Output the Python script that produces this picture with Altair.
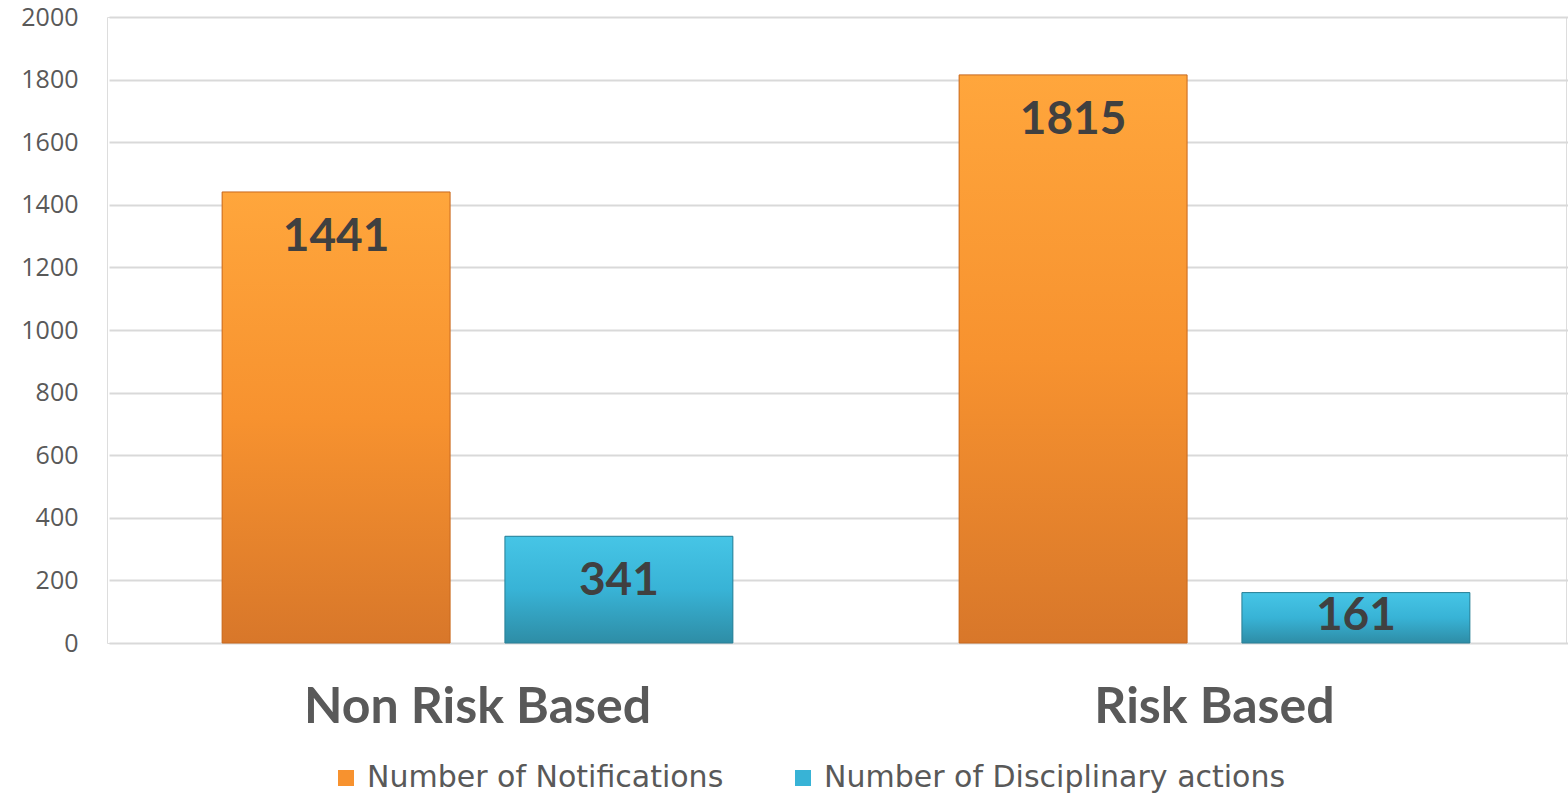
import altair as alt
import pandas as pd

categories = ["Non Risk Based", "Risk Based"]
series = ["Number of Notifications", "Number of Disciplinary actions"]
notifications = [1441, 1815]
disciplinary = [341, 161]
y_ticks = [0, 200, 400, 600, 800, 1000, 1200, 1400, 1600, 1800, 2000]

rows = []
for c, v in zip(categories, notifications):
    rows.append({"category": c, "series": series[0], "value": v})
for c, v in zip(categories, disciplinary):
    rows.append({"category": c, "series": series[1], "value": v})
df = pd.DataFrame(rows)

orange = "#F7922F"
blue = "#38B3D6"

x_enc = alt.X("category:N", sort=categories,
              scale=alt.Scale(paddingInner=0, paddingOuter=0, range=[2, 1476]),
              axis=alt.Axis(title=None, labelFontSize=50, labelFont="Lato", labelFontWeight="bold",
                            labelColor="#595959", labelPadding=39, ticks=False, domain=False,
                            labelAngle=0, grid=False, labelLimit=1000))
xoff = alt.XOffset("series:N", sort=series,
                   scale=alt.Scale(paddingInner=0.194, paddingOuter=0.4))
y_enc = alt.Y("value:Q", scale=alt.Scale(domain=[0, 2000], nice=False),
              axis=alt.Axis(title=None, values=y_ticks, format="d", labelFontSize=25,
                            labelFont="Open Sans", labelColor="#595959", labelPadding=29,
                            ticks=False, domain=False, gridColor="#D9D9D9", gridWidth=2))

base = alt.Chart(df)

bars = base.mark_bar().encode(
    x=x_enc, xOffset=xoff, y=y_enc,
    color=alt.Color("series:N", sort=series,
                    scale=alt.Scale(domain=series, range=[orange, blue]),
                    legend=alt.Legend(title=None, orient="none", direction="horizontal",
                                      legendX=224, legendY=746, symbolType="square",
                                      symbolSize=256, symbolStrokeWidth=0,
                                      labelFontSize=30, labelFont="DejaVu Sans", labelColor="#595959",
                                      labelOffset=6, columnPadding=64, labelLimit=800)),
)

grad_orange = alt.Gradient(gradient="linear", x1=0, x2=0, y1=0, y2=1,
                           stops=[alt.GradientStop(color="#FFA63C", offset=0),
                                  alt.GradientStop(color="#F7922F", offset=0.5),
                                  alt.GradientStop(color="#D8772A", offset=1)])
grad_blue = alt.Gradient(gradient="linear", x1=0, x2=0, y1=0, y2=1,
                         stops=[alt.GradientStop(color="#46C5E6", offset=0),
                                alt.GradientStop(color="#38B3D6", offset=0.5),
                                alt.GradientStop(color="#2E8DA6", offset=1)])

bars_o = base.mark_bar(color=grad_orange, stroke="#C8691F", strokeWidth=1).encode(
    x=x_enc, xOffset=xoff, y=y_enc).transform_filter(alt.datum.series == series[0])
bars_b = base.mark_bar(color=grad_blue, stroke="#2A7F96", strokeWidth=1).encode(
    x=x_enc, xOffset=xoff, y=y_enc).transform_filter(alt.datum.series == series[1])

labels = base.mark_text(baseline="top", dy=23, fontSize=46, font="Lato", fontWeight="bold",
                        color="#404040").transform_calculate(
    labelpos="max(datum.value, 230)").encode(
    x=x_enc, xOffset=xoff,
    y=alt.Y("labelpos:Q", scale=alt.Scale(domain=[0, 2000], nice=False)),
    text=alt.Text("value:Q"))

chart = alt.layer(bars, bars_o, bars_b, labels).properties(
    width=1459, height=626,
    autosize=alt.AutoSizeParams(type="none"),
    padding={"left": 107, "top": 17, "right": 2, "bottom": 152},
).configure_view(stroke=None).configure(background="white")

chart.save("out.html", embed_options={"renderer": "svg", "actions": False})
